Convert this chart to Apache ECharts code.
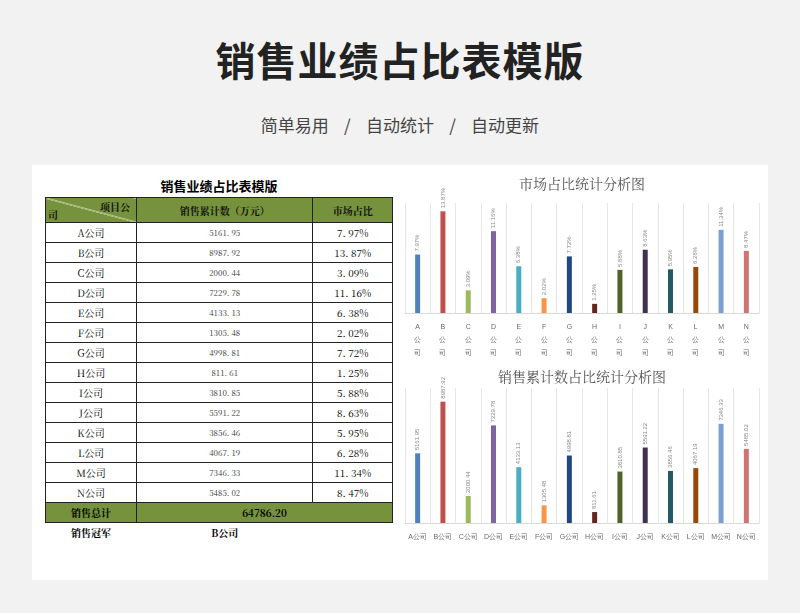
<!DOCTYPE html>
<html><head><meta charset="utf-8">
<script src="https://cdn.jsdelivr.net/npm/echarts@6/dist/echarts.min.js"></script>
<style>
body{margin:0;width:800px;height:613px;background:#f2f2f2;font-family:"Noto Sans CJK SC",sans-serif;position:relative;overflow:hidden}
#title{position:absolute;top:30px;width:800px;text-align:center;font-size:40px;font-weight:bold;color:#222;letter-spacing:1px}
#sub{position:absolute;top:112px;width:800px;text-align:center;font-size:17px;color:#444;word-spacing:0}
#card{position:absolute;left:32px;top:165px;width:736px;height:415px;background:#fff}
#tbl{position:absolute;left:13px;top:10px;width:348px}
#tbl .cap{text-align:center;font-weight:bold;font-size:13px;height:22px;line-height:22px;font-family:"Noto Sans CJK SC"}
table{border-collapse:collapse;width:348px;font-size:10px;font-family:"Noto Serif CJK SC","Noto Sans CJK SC",serif}
td{border:1px solid #222;height:19px;text-align:center;padding:0}
tr.h td{background:#76923c;color:#111;font-weight:bold;height:24px;font-size:10px}
tr.t td{background:#76923c;font-weight:bold}
tr.c td{border:none;font-weight:bold}
.n{font-size:8px;color:#333}
#c1{position:absolute;left:365px;top:5px;width:370px;height:190px}
#c2{position:absolute;left:365px;top:198px;width:370px;height:182px}
</style></head><body>
<div id="title">销售业绩占比表模版</div>
<div id="sub">简单易用 &nbsp;&nbsp;&nbsp;/ &nbsp;&nbsp;&nbsp;自动统计 &nbsp;&nbsp;&nbsp;/ &nbsp;&nbsp;&nbsp;自动更新</div>
<div id="card">
<div id="tbl"><div class="cap">销售业绩占比表模版</div><table id="t"></table></div>
<div id="c1"></div><div id="c2"></div>
</div>
<script>
var companies = ['A','B','C','D','E','F','G','H','I','J','K','L','M','N'];
var sales = [5161.95,8987.92,2000.44,7229.78,4133.13,1305.48,4998.81,811.61,3810.85,5591.22,3856.46,4067.19,7346.33,5485.02];
var shares = [7.97,13.87,3.09,11.16,6.38,2.02,7.72,1.25,5.88,8.63,5.95,6.28,11.34,8.47];
var total = '64786.20';
var champion = 'B公司';
var colors = ['#4f81bd','#c0504d','#9bbb59','#8064a2','#4bacc6','#f79646','#1f497d','#632523','#4f6228','#403151','#215967','#984807','#7ba0cd','#d07373'];

var h = '<tr class="h"><td style="width:90px;position:relative;background:#76923c linear-gradient(to top right,transparent 49%,#fff 50%,transparent 52%)"><span style="position:absolute;right:6px;top:1px">项目公</span><span style="position:absolute;left:2px;bottom:0">司</span></td><td>销售累计数（万元）</td><td>市场占比</td></tr>';
companies.forEach(function(c, i){
  h += '<tr><td>' + c + '公司</td><td class="n">' + sales[i].toFixed(2).replace('.', '. ') + '</td><td>' + shares[i].toFixed(2).replace('.', '. ') + '%</td></tr>';
});
h += '<tr class="t"><td>销售总计</td><td colspan="2">' + total + '</td></tr>';
h += '<tr class="c"><td>销售冠军</td><td>' + champion + '</td><td></td></tr>';
document.getElementById('t').innerHTML = h;

function makeChart(id, title, data, vertical, fmt) {
  var ch = echarts.init(document.getElementById(id));
  ch.setOption({
    title: {text: title, left: 'center', top: 2, textStyle: {fontSize: 14, fontWeight: 'normal', color: '#555', fontFamily: 'Noto Serif CJK SC, Noto Sans CJK SC'}},
    grid: {left: 8, right: 8, top: vertical ? 33 : 25, bottom: vertical ? 37 : 22},
    xAxis: {type: 'category',
      data: companies.map(function(c){ return vertical ? c + '\n公\n司' : c + '公司'; }),
      axisTick: {show: false}, axisLine: {lineStyle: {color: '#d9d9d9'}},
      splitLine: {show: true, lineStyle: {color: '#e6e6e6'}},
      axisLabel: {fontSize: 7, color: '#666', lineHeight: 13, interval: 0}},
    yAxis: {type: 'value', min: 0, show: false},
    series: [{type: 'bar', barWidth: 5,
      data: data.map(function(v, i){ return {value: v, itemStyle: {color: colors[i]}}; }),
      label: {show: true, position: 'top', rotate: 90, align: 'left', verticalAlign: 'middle', distance: 3, fontSize: 6, color: '#888', formatter: fmt}}]
  });
}
makeChart('c1', '市场占比统计分析图', shares, true, function(p){ return p.value.toFixed(2) + '%'; });
makeChart('c2', '销售累计数占比统计分析图', sales, false, function(p){ return p.value.toFixed(2); });
</script>
</body></html>
